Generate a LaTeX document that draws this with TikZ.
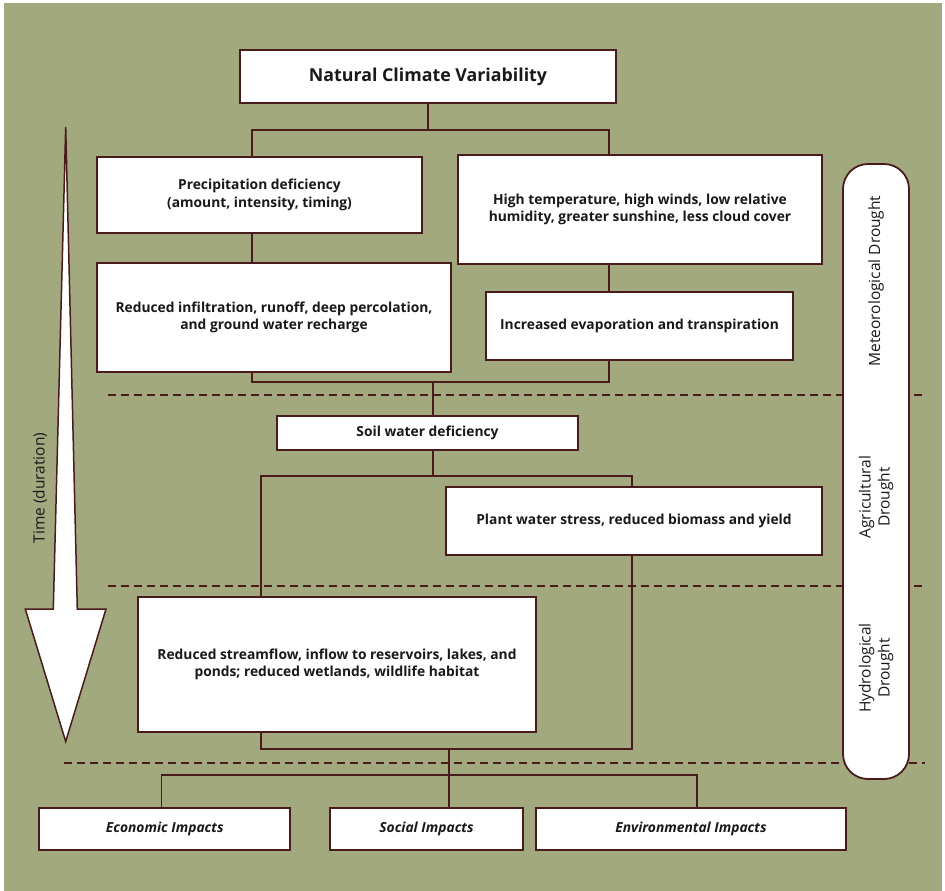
\documentclass[tikz,border=0pt]{standalone}
\usepackage{fontspec}
\setmainfont{Open Sans}
\usepackage{tikz}
\definecolor{fieldgreen}{HTML}{A3A97F}
\definecolor{darkmaroon}{HTML}{4A1B1B}
\pgfdeclarelayer{bg}
\pgfsetlayers{bg,main}

\begin{document}
\begin{tikzpicture}[x=1pt, y=-1pt,
    box/.style={draw=darkmaroon, line width=1.8pt, fill=white, align=center, inner sep=0pt,
        text=black!90, font=\bfseries\fontsize{13.8}{17.5}\selectfont},
    impact/.style={box, minimum height=42pt, font=\bfseries\itshape\fontsize{13.8}{17.5}\selectfont},
    phase/.style={rotate=90, align=center, text=black!90, font=\fontsize{15.5}{19}\selectfont},
    link/.style={draw=darkmaroon, line width=1.8pt},
    zone/.style={draw=darkmaroon, line width=1.8pt, dash pattern=on 8pt off 5pt}
]
    \useasboundingbox (0,0) rectangle (945,891);

    % causes and effects
    \node[box, minimum width=376pt, minimum height=53pt, font=\bfseries\fontsize{17.8}{21}\selectfont] (nature) at (428,76.5) {Natural Climate Variability};
    \node[box, minimum width=325pt, minimum height=76pt] (precip) at (259.5,195) {Precipitation deficiency\\(amount, intensity, timing)};
    \node[box, minimum width=364pt, minimum height=109pt] (hot) at (640,209.5) {High temperature, high winds, low relative\\humidity, greater sunshine, less cloud cover};
    \node[box, minimum width=354pt, minimum height=109pt] (reduce) at (274,317.5) {Reduced infiltration, runoff, deep percolation,\\and ground water recharge};
    \node[box, minimum width=307pt, minimum height=68pt] (evap) at (639.5,326) {Increased evaporation and transpiration};
    \node[box, minimum width=301pt, minimum height=34pt] (soil) at (427.5,433) {Soil water deficiency};
    \node[box, minimum width=376pt, minimum height=68pt] (plant) at (634,521) {Plant water stress, reduced biomass and yield};
    \node[box, minimum width=398pt, minimum height=135pt] (stream) at (337,664.5) {Reduced streamflow, inflow to reservoirs, lakes, and\\ponds; reduced wetlands, wildlife habitat};

    % impacts
    \node[impact, minimum width=251pt] (econ) at (164.75,829) {Economic Impacts};
    \node[impact, minimum width=193pt] (social) at (426.5,829) {Social Impacts};
    \node[impact, minimum width=310pt] (env) at (691,829) {Environmental Impacts};

    % drought stages
    \node[draw=darkmaroon, line width=1.8pt, fill=white, rounded corners=25pt, minimum width=66pt, minimum height=615pt] (stages) at (876,471.5) {};
    \node[phase] (meteo) at (876,281) {Meteorological Drought};
    \node[phase] (agri) at (876,497) {Agricultural\\Drought};
    \node[phase] (hydro) at (876,668) {Hydrological\\Drought};

    % time arrow
    \draw[draw=darkmaroon, line width=1.5pt, fill=white, line join=miter]
        (65.7,127) -- (77.3,609) -- (106,609) -- (65.7,741.5) -- (25.3,609) -- (53.3,609) -- cycle;
    \node[rotate=90, text=black!90, font=\fontsize{15.5}{18}\selectfont] (time) at (40,488) {Time (duration)};

    \coordinate (hubA) at (428,130);
    \coordinate (hubB) at (433,382);
    \coordinate (hubC) at (433,476);
    \coordinate (hubD) at (449,749);
    \coordinate (hubE) at (449,775);
    \coordinate (colL) at (252,0);
    \coordinate (colR) at (609,0);
    \coordinate (colS) at (261,0);
    \coordinate (colP) at (632,0);
    \coordinate (colE) at (161.5,0);
    \coordinate (colV) at (697,0);

    \begin{pgfonlayer}{bg}
        \fill[white] (0,0) rectangle (945,891);
        \fill[fieldgreen] (4,3) rectangle (942,891);
        \draw[zone] (108,395) -- (925,395);
        \draw[zone] (108,586) -- (925,586);
        \draw[zone] (64,763) -- (925,763);

        \draw[link] (nature.south) -- (hubA);
        \draw[link] (precip.north -| colL) |- (hubA) -| (hot.north -| colR);
        \draw[link] (precip.south -| colL) -- (reduce.north -| colL);
        \draw[link] (hot.south -| colR) -- (evap.north -| colR);
        \draw[link] (reduce.south -| colL) |- (hubB) -| (evap.south -| colR);
        \draw[link] (hubB) -- (soil.north -| hubB);
        \draw[link] (soil.south -| hubC) -- (hubC);
        \draw[link] (stream.north -| colS) |- (hubC) -| (hubD -| colP) -| (stream.south -| colS);
        \draw[link] (hubD) -- (hubE);
        \draw[link] (econ.north -| colE) |- (hubE) -| (env.north -| colV);
        \draw[link] (hubE) -- (social.north -| hubE);
    \end{pgfonlayer}
\end{tikzpicture}
\end{document}
